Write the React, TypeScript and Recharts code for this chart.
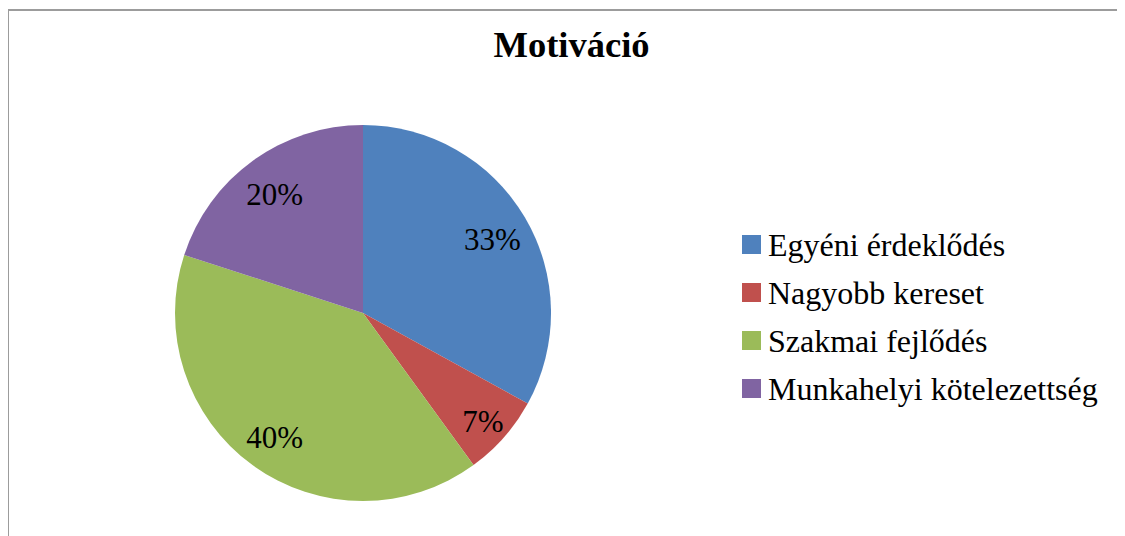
import React from "react";
import { PieChart, Pie, Cell } from "recharts";

const categories = [
  "Egyéni érdeklődés",
  "Nagyobb kereset",
  "Szakmai fejlődés",
  "Munkahelyi kötelezettség",
];
const values = [33, 7, 40, 20];
const colors = ["#4F81BD", "#C0504D", "#9BBB59", "#8064A2"];
const title = "Motiváció";

const data = categories.map((name, i) => ({ name, value: values[i] }));

const FONT = '"Liberation Serif", "Times New Roman", serif';
const RAD = Math.PI / 180;

const renderLabel = (props: any) => {
  const { cx, cy, midAngle, outerRadius, percent } = props;
  const factor = percent < 0.1 ? 0.85 : 0.8;
  const r = outerRadius * factor;
  const x = cx + r * Math.cos(-midAngle * RAD);
  const y = cy + r * Math.sin(-midAngle * RAD);
  return (
    <text
      x={x}
      y={y + 3}
      textAnchor="middle"
      dominantBaseline="central"
      style={{ fontFamily: FONT, fontSize: 31 }}
      fill="#000"
    >
      {`${Math.round(percent * 100)}%`}
    </text>
  );
};

export default function App() {
  return (
    <div
      style={{
        position: "relative",
        width: 1117,
        height: 528,
        overflow: "hidden",
        background: "#fff",
      }}
    >
      <div
        style={{
          position: "absolute",
          left: -1,
          top: 1,
          width: 1140,
          height: 560,
          border: "2px solid #9c9c9c",
          boxSizing: "border-box",
        }}
      />
      <div
        style={{
          position: "absolute",
          left: 0,
          top: 19,
          width: 1127,
          textAlign: "center",
          fontFamily: FONT,
          fontWeight: "bold",
          fontSize: 36.5,
          lineHeight: "36px",
          color: "#000",
        }}
      >
        {title}
      </div>
      <div style={{ position: "absolute", left: 0, top: 0 }}>
        <PieChart width={1117} height={528} margin={{ top: 0, right: 0, bottom: 0, left: 0 }}>
          <Pie
            data={data}
            dataKey="value"
            nameKey="name"
            cx={355}
            cy={305}
            outerRadius={188}
            startAngle={90}
            endAngle={-270}
            stroke="none"
            label={renderLabel}
            labelLine={false}
            isAnimationActive={false}
          >
            {data.map((d, i) => (
              <Cell key={d.name} fill={colors[i]} />
            ))}
          </Pie>
        </PieChart>
      </div>
      <div
        style={{
          position: "absolute",
          left: 734,
          top: 222,
          width: 383,
          fontFamily: FONT,
          fontSize: 32,
          color: "#000",
        }}
      >
        {categories.map((name, i) => (
          <div
            key={name}
            style={{ position: "relative", height: 48, whiteSpace: "nowrap" }}
          >
            <div
              style={{
                position: "absolute",
                left: 0,
                top: 5,
                width: 19,
                height: 19,
                background: colors[i],
              }}
            />
            <div
              style={{
                position: "absolute",
                left: 26,
                top: 0,
                lineHeight: "31px",
              }}
            >
              {name}
            </div>
          </div>
        ))}
      </div>
    </div>
  );
}
